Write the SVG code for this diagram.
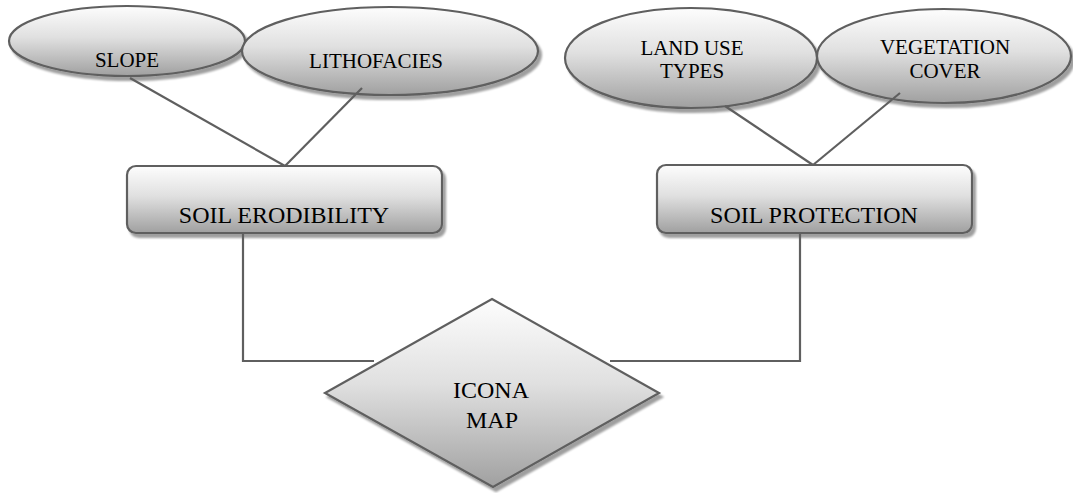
<svg xmlns="http://www.w3.org/2000/svg" width="1073" height="493" viewBox="0 0 1073 493">
<defs>
<linearGradient id="g" x1="0" y1="0" x2="0" y2="1">
<stop offset="0" stop-color="#fdfdfd"/>
<stop offset="0.45" stop-color="#e0e0e0"/>
<stop offset="1" stop-color="#a0a0a0"/>
</linearGradient>
<filter id="sh" x="-10%" y="-10%" width="125%" height="135%">
<feGaussianBlur in="SourceAlpha" stdDeviation="1.2"/>
<feOffset dx="3" dy="4" result="o"/>
<feComponentTransfer><feFuncA type="linear" slope="0.38"/></feComponentTransfer>
<feMerge><feMergeNode/><feMergeNode in="SourceGraphic"/></feMerge>
</filter>
</defs>
<style>
.n{fill:url(#g);stroke:#5f5f5f;stroke-width:2.2;filter:url(#sh)}
.t{font-family:"Liberation Serif","Times New Roman",serif;fill:#000;text-anchor:middle}
.s{font-size:21px}
.b{font-size:24px}
.c{fill:none;stroke:#5f5f5f;stroke-width:2.2}
</style>
<rect width="1073" height="493" fill="#fff"/>
<g id="slope"><ellipse class="n" cx="127" cy="41" rx="118" ry="35"/><text class="t s" x="127" y="67">SLOPE</text></g>
<g id="lithofacies"><ellipse class="n" cx="390" cy="51" rx="148" ry="44"/><text class="t s" x="376" y="68">LITHOFACIES</text></g>
<g id="landuse"><ellipse class="n" cx="691" cy="58" rx="126" ry="50"/><text class="t s" x="692" y="55">LAND USE</text><text class="t s" x="692" y="78">TYPES</text></g>
<g id="vegetation"><ellipse class="n" cx="944" cy="56" rx="127" ry="47"/><text class="t s" x="945" y="54">VEGETATION</text><text class="t s" x="945" y="78">COVER</text></g>
<g id="erodibility"><rect class="n" x="127" y="166" width="315" height="67" rx="9"/><text class="t b" x="284" y="223">SOIL ERODIBILITY</text></g>
<g id="protection"><rect class="n" x="657" y="165" width="315" height="68" rx="9"/><text class="t b" x="814" y="223">SOIL PROTECTION</text></g>
<g id="icona"><polygon class="n" points="492,299 659,393 493,487 325,393"/><text class="t b" x="491" y="398">ICONA</text><text class="t b" x="492" y="428">MAP</text></g>
<g id="connectors">
<line class="c" x1="130" y1="78" x2="285" y2="166"/>
<line class="c" x1="362" y1="88" x2="285" y2="166"/>
<line class="c" x1="725" y1="106" x2="813" y2="165"/>
<line class="c" x1="900" y1="93" x2="813" y2="165"/>
<polyline class="c" points="243,233 243,361 374,361"/>
<polyline class="c" points="800,233 800,361 610,361"/>
</g>
</svg>
